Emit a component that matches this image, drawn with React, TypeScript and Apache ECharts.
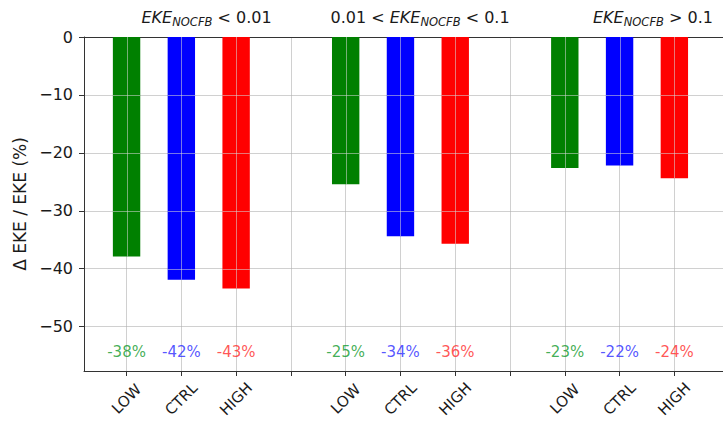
import React, { useEffect, useRef } from 'react';
import * as echarts from 'echarts';

// Scenarios and their colours
const scenarios = ['LOW', 'CTRL', 'HIGH'];
const barColors = ['#008000', '#0000ff', '#ff0000'];
const labelColors = ['#109a2c', '#2a2aff', '#ff2a2a'];

// EKE regimes (one group of bars each)
const regimeTitles = [
  '{it|EKE}{sub|NOCFB}{n| < 0.01}',
  '{n|0.01 < }{it|EKE}{sub|NOCFB}{n| < 0.1}',
  '{it|EKE}{sub|NOCFB}{n| > 0.1}',
];

// Relative change of EKE (%) in each regime, per scenario
const lowValues = [-37.9, -25.4, -22.6];
const ctrlValues = [-41.9, -34.4, -22.2];
const highValues = [-43.4, -35.7, -24.4];

// y ticks inside the plot (grid lines also drawn across the bars)
const yGridTicks = [-50, -40, -30, -20, -10];

const FONT = 'DejaVu Sans';
const LABEL_Y = -54.3;
const BAR_UNITS = 0.5;
const GRID_LINE = 'rgba(176,176,176,0.6)';
const GRID_ON_BAR = 'rgba(215,215,215,0.55)';

export default function App() {
  const ref = useRef<HTMLDivElement>(null);

  useEffect(() => {
    if (!ref.current) return;
    const chart = echarts.init(ref.current, null, { renderer: 'svg' });

    const seriesValues = [lowValues, ctrlValues, highValues];
    const slotsPerGroup = scenarios.length + 1;

    // tick names along the x axis, with an empty slot between regimes
    const tickNames: string[] = [];
    regimeTitles.forEach((_, g) => {
      scenarios.forEach((s) => tickNames.push(s));
      if (g < regimeTitles.length - 1) tickNames.push('');
    });

    const barData: any[] = [];
    const labelData: any[] = [];
    regimeTitles.forEach((_, g) => {
      scenarios.forEach((_s, s) => {
        const x = g * slotsPerGroup + s;
        const v = seriesValues[s][g];
        barData.push([x, v, s]);
        labelData.push({
          value: [x, LABEL_Y, v],
          label: { color: labelColors[s] },
        });
      });
    });

    const titleLeft = [141.5, 330.5, 593];
    const rich = {
      it: { fontFamily: FONT, fontStyle: 'italic', fontSize: 16, lineHeight: 22, color: '#1a1a1a' },
      n: { fontFamily: FONT, fontSize: 16, lineHeight: 22, color: '#1a1a1a' },
      sub: { fontFamily: FONT, fontStyle: 'italic', fontSize: 11.5, verticalAlign: 'bottom', color: '#1a1a1a' },
    };

    const xMin = -0.777;
    const xMax = 10.888;
    const yMin = -57.65;
    const yMax = 0;

    // bar with the grid lines that cross it painted on top
    const renderBar = (_params: any, api: any) => {
      const x = api.value(0);
      const v = api.value(1);
      const s = api.value(2);
      const base = api.coord([x, 0]);
      const end = api.coord([x, v]);
      const w = api.size([BAR_UNITS, 0])[0];
      const left = base[0] - w / 2;
      const children: any[] = [
        {
          type: 'rect',
          shape: { x: left, y: base[1], width: w, height: end[1] - base[1] },
          style: { fill: barColors[s] },
        },
      ];
      const cx = Math.round(base[0]) + 0.5;
      children.push({
        type: 'line',
        shape: { x1: cx, y1: base[1], x2: cx, y2: end[1] },
        style: { stroke: GRID_ON_BAR, lineWidth: 1 },
      });
      yGridTicks.forEach((t) => {
        if (t <= v) return;
        const y = Math.round(api.coord([x, t])[1]) + 0.5;
        children.push({
          type: 'line',
          shape: { x1: left, y1: y, x2: left + w, y2: y },
          style: { stroke: GRID_ON_BAR, lineWidth: 1 },
        });
      });
      return { type: 'group', children };
    };

    chart.setOption({
      animation: false,
      backgroundColor: '#ffffff',
      grid: { left: 84, right: -2, top: 37, bottom: 54 },
      xAxis: [
        {
          type: 'value',
          min: xMin,
          max: xMax,
          splitNumber: 11,
          axisLine: { show: true, onZero: false, lineStyle: { color: '#333', width: 1 } },
          axisTick: { show: true, length: 5, lineStyle: { color: '#333' } },
          axisLabel: {
            show: true,
            showMinLabel: false,
            showMaxLabel: false,
            rotate: 45,
            align: 'center',
            verticalAlign: 'middle',
            margin: 28,
            fontFamily: FONT,
            fontSize: 15,
            color: '#1a1a1a',
            formatter: (v: number) => {
              const i = Math.round(v);
              if (Math.abs(v - i) > 1e-6) return '';
              return tickNames[i] ?? '';
            },
          },
          splitLine: { show: true, lineStyle: { color: GRID_LINE, width: 1 } },
        },
        {
          type: 'value',
          position: 'top',
          min: xMin,
          max: xMax,
          axisLine: { show: true, onZero: false, lineStyle: { color: '#333', width: 1 } },
          axisTick: { show: false },
          axisLabel: { show: false },
          splitLine: { show: false },
        },
      ],
      yAxis: {
        type: 'value',
        min: yMin,
        max: yMax,
        splitNumber: 5,
        name: 'Δ EKE / EKE (%)',
        nameLocation: 'middle',
        nameGap: 47,
        nameTextStyle: { fontFamily: FONT, fontSize: 17, color: '#1a1a1a' },
        axisLine: { show: true, onZero: false, lineStyle: { color: '#333', width: 1 } },
        axisTick: { show: true, length: 5, lineStyle: { color: '#333' } },
        axisLabel: {
          showMinLabel: false,
          margin: 11,
          fontFamily: FONT,
          fontSize: 16,
          color: '#1a1a1a',
          formatter: (v: number) => (v === 0 ? '0' : '\u2212' + Math.abs(v)),
        },
        splitLine: { show: true, lineStyle: { color: GRID_LINE, width: 1 } },
      },
      series: [
        {
          type: 'custom',
          xAxisIndex: 0,
          data: barData,
          renderItem: renderBar,
          encode: { x: 0, y: 1 },
          z: 2,
          silent: true,
        },
        {
          type: 'scatter',
          xAxisIndex: 0,
          data: labelData,
          symbolSize: 0,
          z: 12,
          silent: true,
          label: {
            show: true,
            position: 'inside',
            fontFamily: FONT,
            fontSize: 15,
            formatter: (p: any) => Math.round(p.value[2]) + '%',
          },
        },
      ],
      graphic: regimeTitles.map((t, i) => ({
        type: 'text',
        x: titleLeft[i],
        y: 17,
        z: 50,
        silent: true,
        style: {
          text: t,
          rich,
          align: 'left',
          verticalAlign: 'middle',
          fill: '#1a1a1a',
          font: `16px "${FONT}"`,
        },
      })),
    });

    return () => chart.dispose();
  }, []);

  return (
    <div
      ref={ref}
      style={{ position: 'absolute', left: 0, top: 0, width: 723, height: 425 }}
    />
  );
}
